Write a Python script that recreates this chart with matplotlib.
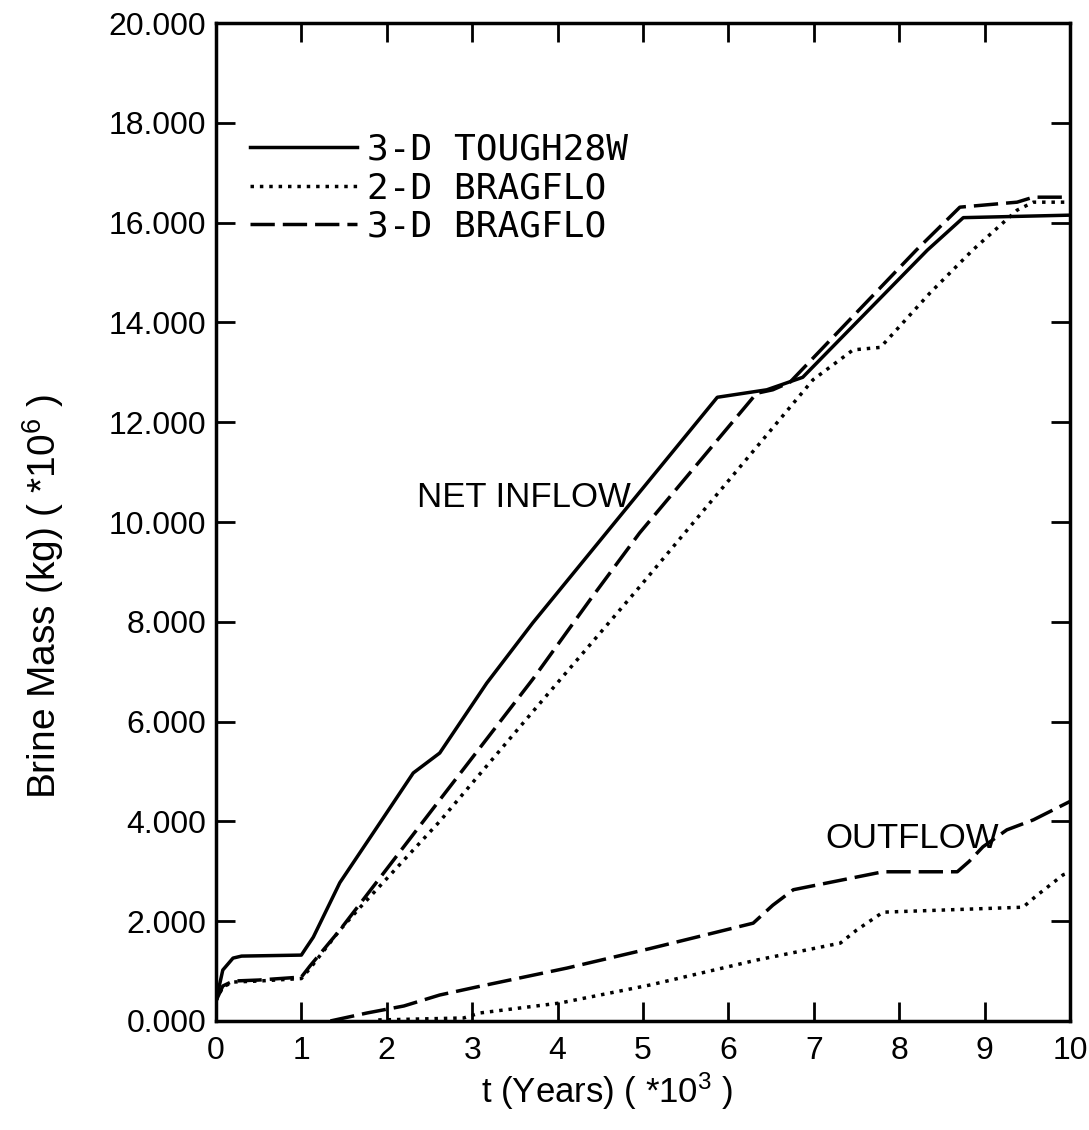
import matplotlib
matplotlib.use("Agg")
import matplotlib.pyplot as plt
from matplotlib.ticker import FormatStrFormatter

plt.rcParams['font.family'] = ['Liberation Sans', 'DejaVu Sans']
plt.rcParams['mathtext.default'] = 'regular'

# time axis in thousands of years, brine mass in 10^6 kg
# net inflow curves
t_tough_in = [0.0, 0.08, 0.2, 0.3, 1.0, 1.05, 1.14, 1.45, 1.92, 2.31, 2.62, 3.17, 3.71,
              4.77, 5.87, 6.45, 6.87, 8.33, 8.75, 10.0]
m_tough_in = [0.4, 1.02, 1.26, 1.3, 1.32, 1.45, 1.68, 2.77, 3.97, 4.97, 5.37, 6.77, 7.98,
              10.2, 12.5, 12.65, 12.9, 15.45, 16.1, 16.15]

t_brag2_in = [0.0, 0.08, 0.2, 0.5, 1.0, 1.1, 1.45, 1.69, 2.62, 3.71, 4.96, 6.99, 7.46,
              7.78, 7.93, 8.36, 8.86, 9.38, 9.57, 10.0]
m_brag2_in = [0.4, 0.68, 0.78, 0.8, 0.85, 1.05, 1.82, 2.28, 4.0, 6.2, 8.7, 12.85, 13.45,
              13.5, 13.78, 14.59, 15.45, 16.25, 16.41, 16.41]

t_brag3_in = [0.0, 0.08, 0.2, 0.5, 1.0, 1.1, 1.45, 2.62, 3.71, 4.38, 4.96, 6.33, 6.52,
              6.72, 8.2, 8.71, 9.38, 9.57, 10.0]
m_brag3_in = [0.4, 0.7, 0.8, 0.82, 0.88, 1.1, 1.82, 4.43, 6.85, 8.44, 9.78, 12.58, 12.65,
              12.8, 15.45, 16.31, 16.41, 16.51, 16.51]

# outflow curves (BRAGFLO only)
t_brag2_out = [1.9, 2.9, 3.09, 4.03, 5.08, 6.33, 7.31, 7.5, 7.81, 9.45, 9.6, 9.92, 10.0]
m_brag2_out = [0.02, 0.06, 0.16, 0.36, 0.72, 1.22, 1.56, 1.82, 2.18, 2.28, 2.5, 2.93, 2.98]

t_brag3_out = [1.34, 1.77, 2.2, 2.62, 3.05, 4.11, 5.08, 6.29, 6.52, 6.76, 7.81, 8.68,
               8.82, 8.98, 9.26, 9.57, 10.0]
m_brag3_out = [0.0, 0.16, 0.3, 0.52, 0.68, 1.06, 1.45, 1.96, 2.32, 2.63, 2.99, 2.99,
               3.2, 3.49, 3.83, 4.03, 4.4]

labels = ['3-D TOUGH28W', '2-D BRAGFLO', '3-D BRAGFLO']
x_ticks = list(range(0, 11))
y_ticks = [0, 2, 4, 6, 8, 10, 12, 14, 16, 18, 20]

lw = 2.5
dotted = (0, (1, 1.7))
dashed = (0, (7, 2.3))

fig = plt.figure(figsize=(10.89, 11.30), dpi=100)
ax = fig.add_axes([0.1983, 0.0965, 0.7843, 0.8831])

ax.plot(t_tough_in, m_tough_in, color='black', lw=lw, label=labels[0])
ax.plot(t_brag2_in, m_brag2_in, color='black', lw=lw, ls=dotted, label=labels[1])
ax.plot(t_brag3_in, m_brag3_in, color='black', lw=lw, ls=dashed, label=labels[2])
ax.plot(t_brag2_out, m_brag2_out, color='black', lw=lw, ls=dotted)
ax.plot(t_brag3_out, m_brag3_out, color='black', lw=lw, ls=dashed)

ax.text(2.35, 10.3, 'NET INFLOW', fontsize=25, ha='left', va='baseline')
ax.text(7.13, 3.47, 'OUTFLOW', fontsize=25, ha='left', va='baseline')

ax.set_xlim(0, 10)
ax.set_ylim(0, 20)
ax.set_xticks(x_ticks)
ax.set_yticks(y_ticks)
ax.yaxis.set_major_formatter(FormatStrFormatter('%.3f'))
ax.tick_params(direction='in', length=14, width=2, labelsize=23,
               top=True, right=True)
ax.tick_params(axis='x', pad=11)
ax.tick_params(axis='y', pad=7)
for s in ax.spines.values():
    s.set_linewidth(2.5)

ax.set_xlabel('t (Years) ( *10$^3$ )', fontsize=25)
ax.set_ylabel('Brine Mass (kg) ( *10$^6$ )', fontsize=28)
ax.xaxis.set_label_coords(0.458, -0.05)
ax.yaxis.set_label_coords(-0.175, 0.425)

ax.legend(loc='upper left', bbox_to_anchor=(0.04, 0.890), frameon=False,
          prop={'family': 'DejaVu Sans Mono', 'size': 26},
          handlelength=2.95, handletextpad=0.28, labelspacing=0.12,
          borderpad=0, borderaxespad=0)

fig.savefig('out.png', dpi=100)
